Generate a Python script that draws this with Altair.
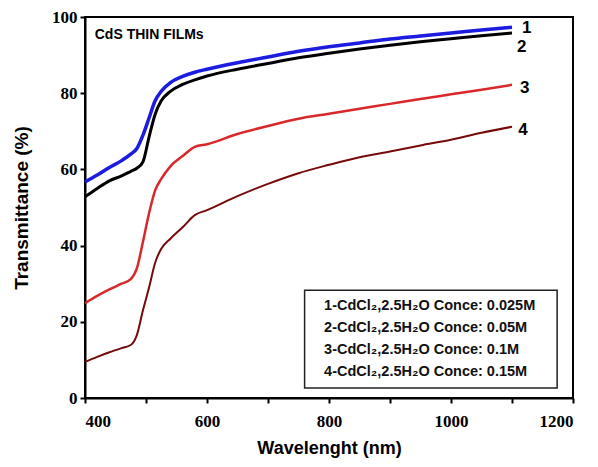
import altair as alt
import pandas as pd

wavelength = [400, 420, 440, 460, 475, 485, 495, 505, 515, 525, 540, 560, 580, 600,
              650, 700, 750, 800, 850, 900, 950, 1000, 1050, 1100]
t1 = [56.7, 58.5, 60.5, 62.3, 64.0, 65.5, 69.0, 73.5, 78.0, 80.5, 82.8, 84.4, 85.5, 86.3,
      88.0, 89.5, 91.0, 92.2, 93.2, 94.2, 95.0, 95.8, 96.6, 97.3]
t2 = [52.8, 55.0, 57.0, 58.3, 59.5, 60.3, 62.0, 68.5, 74.5, 78.0, 80.5, 82.3, 83.5, 84.5,
      86.3, 87.8, 89.3, 90.5, 91.6, 92.6, 93.5, 94.3, 95.1, 95.8]
t3 = [24.9, 26.8, 28.5, 30.0, 31.2, 34.0, 41.0, 48.5, 54.5, 57.5, 60.8, 63.5, 65.9, 66.6,
      69.3, 71.4, 73.3, 74.6, 75.9, 77.2, 78.5, 79.7, 80.9, 82.2]
t4 = [9.5, 10.8, 12.0, 13.1, 13.9, 16.5, 23.0, 29.0, 35.5, 39.2, 41.8, 44.8, 48.0, 49.3,
      53.0, 56.2, 59.0, 61.2, 63.2, 64.7, 66.3, 67.8, 69.6, 71.2]

series_names = ["1", "2", "3", "4"]
series_colors = ["#1c1ce0", "#000000", "#d8282c", "#760a0a"]
series_widths = [3.5, 2.0, 1.5, 3.5]

curve_label_x = [1124, 1116, 1121, 1118]
curve_label_y = [97.1, 92.1, 81.4, 70.3]

legend_lines = ["1-CdCl\u2082,2.5H\u2082O Conce: 0.025M",
                "2-CdCl\u2082,2.5H\u2082O Conce: 0.05M",
                "3-CdCl\u2082,2.5H\u2082O Conce: 0.1M",
                "4-CdCl\u2082,2.5H\u2082O Conce: 0.15M"]
legend_y = [24.1, 18.4, 12.6, 6.8]
legend_x = 792
legend_box = {"x": 760, "x2": 1174, "y": 2.6, "y2": 28.3}

title_text = "CdS THIN FILMs"
title_pos = (416, 95.3)

x_ticks = [400, 500, 600, 700, 800, 900, 1000, 1100, 1200]
y_ticks = [0, 10, 20, 30, 40, 50, 60, 70, 80, 90, 100]

rows = []
for name, vals in zip(series_names, [t1, t2, t3, t4]):
    for w, v in zip(wavelength, vals):
        rows.append({"wavelength": w, "T": v, "series": name})
df = pd.DataFrame(rows)

xscale = alt.Scale(domain=[400, 1200], nice=False, zero=False)
yscale = alt.Scale(domain=[0, 100], nice=False)

label_font = "Liberation Serif"
xaxis = alt.Axis(values=x_ticks, title="Wavelenght (nm)",
                 labelExpr="datum.value % 200 == 0 ? datum.value : ''",
                 labelFont=label_font, labelFontWeight="bold", labelFontSize=17,
                 labelColor="black", tickColor="black", tickSize=5, tickWidth=2,
                 domainColor="black", domainWidth=2, grid=False, labelPadding=10,
                 labelOverlap=False,
                 titleFont="Liberation Sans", titleFontSize=18, titleFontWeight="bold",
                 titleColor="black", titlePadding=10)
yaxis = alt.Axis(values=y_ticks, title="Transmittance (%)",
                 labelExpr="datum.value % 20 == 0 ? datum.value : ''",
                 labelFont=label_font, labelFontWeight="bold", labelFontSize=17,
                 labelColor="black", tickColor="black", tickSize=5, tickWidth=2,
                 domainColor="black", domainWidth=2, grid=False, labelPadding=3,
                 labelOverlap=False,
                 titleFont="Liberation Sans", titleFontSize=19, titleFontWeight="bold",
                 titleColor="black", titlePadding=20)

lines = alt.Chart(df).mark_line(interpolate="monotone").encode(
    x=alt.X("wavelength:Q", scale=xscale, axis=xaxis),
    y=alt.Y("T:Q", scale=yscale, axis=yaxis),
    color=alt.Color("series:N", scale=alt.Scale(domain=series_names, range=series_colors), legend=None),
    strokeWidth=alt.StrokeWidth("series:N", scale=alt.Scale(domain=series_names, range=series_widths), legend=None),
    detail="series:N",
)

lab_df = pd.DataFrame({"x": curve_label_x, "y": curve_label_y, "t": series_names})
curve_labels = alt.Chart(lab_df).mark_text(
    font="Liberation Sans", fontWeight="bold", fontSize=17, color="black",
    align="center", baseline="middle").encode(
    x=alt.X("x:Q", scale=xscale), y=alt.Y("y:Q", scale=yscale), text="t:N")

title_df = pd.DataFrame({"x": [title_pos[0]], "y": [title_pos[1]], "t": [title_text]})
title_mark = alt.Chart(title_df).mark_text(
    font="Liberation Sans", fontWeight="bold", fontSize=14, color="black",
    align="left", baseline="middle").encode(
    x=alt.X("x:Q", scale=xscale), y=alt.Y("y:Q", scale=yscale), text="t:N")

box_df = pd.DataFrame([legend_box])
box = alt.Chart(box_df).mark_rect(fill="white", stroke="#222222", strokeWidth=1.5).encode(
    x=alt.X("x:Q", scale=xscale), x2="x2:Q",
    y=alt.Y("y:Q", scale=yscale), y2="y2:Q")

leg_df = pd.DataFrame({"x": [legend_x] * 4, "y": legend_y, "t": legend_lines})
leg_text = alt.Chart(leg_df).mark_text(
    font="Liberation Sans", fontWeight="bold", fontSize=14.5, color="#111111",
    align="left", baseline="middle").encode(
    x=alt.X("x:Q", scale=xscale), y=alt.Y("y:Q", scale=yscale), text="t:N")

chart = alt.layer(lines, curve_labels, title_mark, box, leg_text).properties(
    width=488, height=381,
    autosize=alt.AutoSizeParams(type="none"),
    padding={"left": 77, "top": 9, "right": 10, "bottom": 70},
    background="white",
).configure_view(stroke="black", strokeWidth=2)

chart.save("out.html", embed_options={"renderer": "svg", "actions": False})
